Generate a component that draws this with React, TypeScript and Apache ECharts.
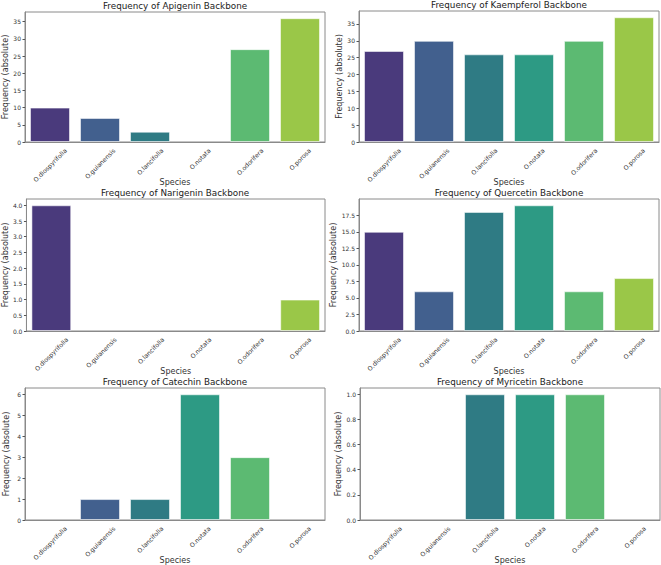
import React, { useEffect, useRef } from "react";
import * as echarts from "echarts";

const categories = ["O.diospyrifolia", "O.guianensis", "O.lancifolia", "O.notata", "O.odorifera", "O.porosa"];
const titles = [
  "Frequency of Apigenin Backbone",
  "Frequency of Kaempferol Backbone",
  "Frequency of Narigenin Backbone",
  "Frequency of Quercetin Backbone",
  "Frequency of Catechin Backbone",
  "Frequency of Myricetin Backbone",
];
const apigenin = [10, 7, 3, 0, 27, 36];
const kaempferol = [27, 30, 26, 26, 30, 37];
const narigenin = [4, 0, 0, 0, 0, 1];
const quercetin = [15, 6, 18, 19, 6, 8];
const catechin = [0, 1, 1, 6, 3, 0];
const myricetin = [0, 0, 1, 1, 1, 0];
const tickIntervals = [5, 5, 0.5, 2.5, 1, 0.2];
const tickDecimals = [0, 0, 1, 1, 0, 1];
const palette = ["#4a3a7c", "#42608e", "#2f7b84", "#2d9a84", "#5cba72", "#9ac748"];

const seriesValues = [apigenin, kaempferol, narigenin, quercetin, catechin, myricetin];

// layout of the six panels: left, top, width, height
const grids = [
  [25, 12, 300, 130],
  [359, 11, 300, 131],
  [25, 199, 300, 132],
  [359, 199, 300, 132],
  [25, 388, 300, 132],
  [360, 388, 300, 132],
];

const FONT = "DejaVu Sans";
const XLABEL_FS = 6.2;

export default function App() {
  const ref = useRef<HTMLDivElement>(null);
  useEffect(() => {
    if (!ref.current) return;
    const chart = echarts.init(ref.current, undefined, { renderer: "svg" });
    const grid = grids.map((g) => ({
      left: g[0], top: g[1], width: g[2], height: g[3],
      show: true, borderColor: "#8a8a8a", borderWidth: 1, backgroundColor: "transparent",
    }));
    const xAxis = grids.map((g, i) => ({
      type: "category", gridIndex: i, data: categories,
      name: "Species", nameLocation: "middle", nameGap: 36,
      nameTextStyle: { fontFamily: FONT, fontSize: 8, color: "#333" },
      axisLine: { lineStyle: { color: "#8a8a8a", width: 1 } },
      axisTick: { alignWithLabel: true, length: 2.5, lineStyle: { color: "#555" } },
      axisLabel: { show: false },
    }));
    const yAxis = grids.map((g, i) => {
      const vals = seriesValues[i];
      const mx = Math.max(...vals) * 1.05;
      return {
        type: "value", gridIndex: i, min: 0, max: mx, interval: tickIntervals[i],
        name: "Frequency (absolute)", nameLocation: "middle", nameGap: 15,
        nameTextStyle: { fontFamily: FONT, fontSize: 8, color: "#333" },
        splitLine: { show: false },
        axisLine: { show: true, lineStyle: { color: "#8a8a8a", width: 1 } },
        axisTick: { show: true, length: 2.5, lineStyle: { color: "#555" } },
        axisLabel: {
          fontFamily: FONT, fontSize: 6, color: "#333", margin: 4, showMaxLabel: false,
          formatter: (v: number) => v.toFixed(tickDecimals[i]),
        },
      };
    });
    const series = seriesValues.map((vals, i) => ({
      type: "bar", xAxisIndex: i, yAxisIndex: i, barCategoryGap: "20%",
      data: vals.map((v, j) => ({
        value: v,
        itemStyle: {
          color: palette[j],
          borderColor: "rgba(255,255,255,0.55)",
          borderWidth: v > 0 ? 1 : 0,
        },
      })),
    }));
    chart.setOption({
      animation: false,
      backgroundColor: "#ffffff",
      grid, xAxis, yAxis, series,
    });

    const canvas = document.createElement("canvas");
    const ctx = canvas.getContext("2d")!;
    ctx.font = `${XLABEL_FS}px "${FONT}"`;
    const c45 = Math.SQRT1_2;
    const graphic: any[] = [];
    grids.forEach((g, i) => {
      graphic.push({
        type: "text",
        x: g[0] + g[2] / 2,
        y: g[1] - 6,
        style: {
          text: titles[i], align: "center", verticalAlign: "middle",
          font: `8.8px "${FONT}"`, fill: "#222",
        },
      });
      const axisY = g[1] + g[3];
      categories.forEach((cat) => {
        const px = chart.convertToPixel({ xAxisIndex: i } as any, cat) as number;
        const w = ctx.measureText(cat).width;
        const H = (w + XLABEL_FS * 1.1) * c45;
        graphic.push({
          type: "text",
          x: px,
          y: axisY + 5 + H / 2,
          rotation: Math.PI / 4,
          style: {
            text: cat, align: "center", verticalAlign: "middle",
            font: `${XLABEL_FS}px "${FONT}"`, fill: "#333",
          },
        });
      });
    });
    chart.setOption({ graphic });
    return () => chart.dispose();
  }, []);
  return <div ref={ref} style={{ position: "fixed", left: 0, top: 0, width: 661, height: 565 }} />;
}
